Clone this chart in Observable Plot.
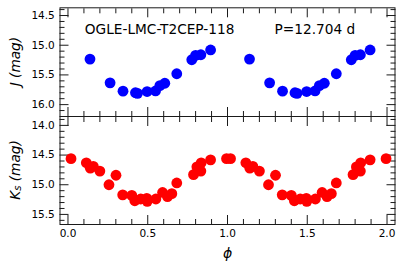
<!DOCTYPE html>
<html><head><meta charset="utf-8">
<script src="https://cdn.jsdelivr.net/npm/d3@7"></script>
<script src="https://cdn.jsdelivr.net/npm/@observablehq/plot@0.6"></script>
<style>
body{margin:0;background:#fff;}
#chart{position:relative;width:402px;height:270px;font-family:"DejaVu Sans",sans-serif;}
#chart svg{position:absolute;left:0;overflow:visible;background:transparent;}
</style></head><body><div id="chart"></div>
<script>
// J-band phased light curve (one cycle; plotted twice at phase and phase+1)
const jPhase = [0.138,0.264,0.345,0.423,0.436,0.496,0.549,0.576,0.607,0.682,0.776,0.800,0.833,0.894];
const jMag   = [15.233,15.633,15.773,15.800,15.810,15.780,15.770,15.680,15.640,15.480,15.245,15.170,15.160,15.080];
// Ks-band phased light curve
const kPhase = [0.019,0.115,0.140,0.159,0.200,0.257,0.301,0.343,0.400,0.419,0.456,0.494,0.497,0.551,0.593,0.624,0.651,0.682,0.787,0.808,0.833,0.835,0.894,0.994];
const kMag   = [14.56,14.63,14.72,14.69,14.77,15.00,14.84,15.17,15.18,15.27,15.24,15.23,15.28,15.24,15.13,15.20,15.15,14.97,14.83,14.70,14.77,14.63,14.58,14.56];

const xMajor = [0, 0.5, 1, 1.5, 2];
const xMinor = [0.1,0.2,0.3,0.4,0.6,0.7,0.8,0.9,1.1,1.2,1.3,1.4,1.6,1.7,1.8,1.9];
const jMajor = [14.5, 15, 15.5, 16];
const jMinor = [14.4,14.6,14.7,14.8,14.9,15.1,15.2,15.3,15.4,15.6,15.7,15.8,15.9,16.1];
const kMajor = [14, 14.5, 15, 15.5];
const kMinor = [13.9,14.1,14.2,14.3,14.4,14.6,14.7,14.8,14.9,15.1,15.2,15.3,15.4,15.6];
const xDomain = [-0.05, 2.05];
const jDomain = [14.37, 16.2];
const kDomain = [13.85, 15.67];
const starName = "OGLE-LMC-T2CEP-118";
const periodText = "P=12.704 d";
const xLabel = "\u03D5";

function fold(ph, mag) {
  return ph.flatMap((p, i) => [{phase: p, mag: mag[i]}, {phase: p + 1, mag: mag[i]}]);
}

const INK = "#1a1a1a";
function panel({rows, color, yDomain, yMajor, yMinor, height, marginTop, marginBottom, extra}) {
  const tk = {stroke: INK, fill: "none", label: null};
  const tx = {stroke: "none", fill: "#000", label: null, tickSize: 0, fontSize: 10.5};
  return Plot.plot({
    width: 402, height, marginLeft: 59.5, marginRight: 7.5, marginTop, marginBottom,
    style: {fontFamily: "DejaVu Sans", fontSize: "10.5px", background: "transparent", overflow: "visible"},
    x: {domain: xDomain},
    y: {domain: yDomain, reverse: true},
    marks: [
      Plot.axisX({...tk, anchor: "bottom", ticks: xMajor, tickSize: -9}),
      Plot.axisX({...tk, anchor: "bottom", ticks: xMinor, tickSize: -5}),
      Plot.axisX({...tk, anchor: "top", ticks: xMajor, tickSize: -9}),
      Plot.axisX({...tk, anchor: "top", ticks: xMinor, tickSize: -5}),
      Plot.axisY({...tk, anchor: "left", ticks: yMajor, tickSize: -9}),
      Plot.axisY({...tk, anchor: "left", ticks: yMinor, tickSize: -5}),
      Plot.axisY({...tk, anchor: "right", ticks: yMajor, tickSize: -9}),
      Plot.axisY({...tk, anchor: "right", ticks: yMinor, tickSize: -5}),
      Plot.axisY({...tx, anchor: "left", ticks: yMajor, tickPadding: 5.2, tickFormat: d3.format(".1f")}),
      Plot.dot(rows, {x: "phase", y: "mag", r: 5.4, fill: color, stroke: "none"}),
      Plot.frame({stroke: INK, strokeWidth: 1}),
      ...extra(tx)
    ]
  });
}

const topPlot = panel({
  rows: fold(jPhase, jMag), color: "#0000ff", yDomain: jDomain, yMajor: jMajor, yMinor: jMinor,
  height: 120, marginTop: 7.3, marginBottom: 4,
  extra: () => [
    Plot.text([starName], {text: d => d, frameAnchor: "top-left", dx: 24.8, dy: 21.7, textAnchor: "start", lineAnchor: "middle", fontSize: 13.7, fill: "#000"}),
    Plot.text([periodText], {text: d => d, frameAnchor: "top-left", dx: 214.5, dy: 21.7, textAnchor: "start", lineAnchor: "middle", fontSize: 13.7, fill: "#000"})
  ]
});
topPlot.style.top = "0px";

const bottomPlot = panel({
  rows: fold(kPhase, kMag), color: "#ff0000", yDomain: kDomain, yMajor: kMajor, yMinor: kMinor,
  height: 158, marginTop: 4, marginBottom: 46,
  extra: (tx) => [
    Plot.axisX({...tx, anchor: "bottom", ticks: xMajor, tickPadding: 5.3, tickFormat: d3.format(".1f")}),
    Plot.text([xLabel], {text: d => d, frameAnchor: "bottom", dy: 29.5, lineAnchor: "middle", fontSize: 14, fontStyle: "italic", fill: "#000"})
  ]
});
bottomPlot.style.top = "112px";

const chart = document.getElementById("chart");
chart.appendChild(topPlot);
chart.appendChild(bottomPlot);

// rotated y-axis titles (mixed italic / subscript)
function yTitle(svg, cy, parts) {
  const t = d3.select(svg).append("text")
    .attr("transform", `translate(15,${cy}) rotate(-90)`)
    .attr("text-anchor", "middle").attr("dominant-baseline", "central")
    .attr("font-family", "DejaVu Sans").attr("font-size", 13.7)
    .attr("font-style", "italic").attr("fill", "#000");
  for (const p of parts) {
    const s = t.append("tspan").text(p.text);
    if (p.sub) s.attr("baseline-shift", "-25%").attr("font-size", 10);
  }
}
yTitle(topPlot, 61.6, [{text: "J (mag)"}]);
yTitle(bottomPlot, 58, [{text: "K"}, {text: "s", sub: true}, {text: " (mag)"}]);
</script></body></html>
